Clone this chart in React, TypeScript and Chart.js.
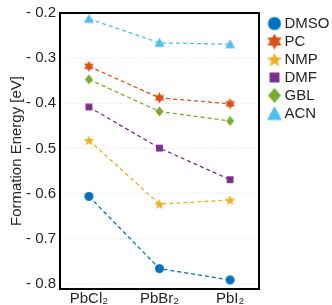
import React, { useEffect, useRef } from "react";
import { Chart, registerables } from "chart.js";

Chart.register(...registerables);

const categories = ["PbCl₂", "PbBr₂", "PbI₂"];
const yTicks = [-0.8, -0.7, -0.6, -0.5, -0.4, -0.3, -0.2];
const seriesNames = ["DMSO", "PC", "NMP", "DMF", "GBL", "ACN"];
const dmso = [-0.606, -0.766, -0.791];
const pc = [-0.318, -0.388, -0.401];
const nmp = [-0.482, -0.623, -0.614];
const dmf = [-0.408, -0.499, -0.569];
const gbl = [-0.347, -0.418, -0.439];
const acn = [-0.213, -0.266, -0.269];
const seriesValues = [dmso, pc, nmp, dmf, gbl, acn];
const colors = ["#0072BD", "#D95319", "#EDB120", "#7E2F8E", "#77AC30", "#4DBEEE"];
const shapes = ["circle", "hexagram", "pentagram", "square", "diamond", "triangle"];

function starPath(ctx: CanvasRenderingContext2D, cx: number, cy: number, n: number, R: number, r: number) {
  ctx.beginPath();
  for (let i = 0; i < 2 * n; i++) {
    const rad = i % 2 === 0 ? R : r;
    const a = -Math.PI / 2 + (i * Math.PI) / n;
    const x = cx + rad * Math.cos(a);
    const y = cy + rad * Math.sin(a);
    if (i === 0) ctx.moveTo(x, y);
    else ctx.lineTo(x, y);
  }
  ctx.closePath();
}

// size: marker size; extraW: canvas widened, shape shifted right by dx
function makeMarker(shape: string, color: string, size: number, canvasW = size, dx = 0): HTMLCanvasElement {
  const c = document.createElement("canvas");
  c.width = canvasW;
  c.height = size;
  const ctx = c.getContext("2d")!;
  ctx.fillStyle = color;
  const h = size / 2;
  ctx.translate(canvasW / 2 - h + dx, 0);
  if (shape === "circle") {
    ctx.beginPath();
    ctx.arc(h, h, h * 0.82, 0, Math.PI * 2);
  } else if (shape === "hexagram") {
    starPath(ctx, h, h, 6, h, h * 0.577);
  } else if (shape === "pentagram") {
    starPath(ctx, h, h * 1.08, 5, h, h * 0.42);
  } else if (shape === "square") {
    ctx.beginPath();
    ctx.rect(h - h * 0.62, h - h * 0.62, h * 1.24, h * 1.24);
  } else if (shape === "diamond") {
    ctx.beginPath();
    ctx.moveTo(h, 0.5);
    ctx.lineTo(size - 1.5, h);
    ctx.lineTo(h, size - 0.5);
    ctx.lineTo(1.5, h);
    ctx.closePath();
  } else {
    ctx.beginPath();
    ctx.moveTo(h, 0.5);
    ctx.lineTo(size - 0.5, size - 1.5);
    ctx.lineTo(0.5, size - 1.5);
    ctx.closePath();
  }
  ctx.fill();
  return c;
}

const FONT = "'Liberation Sans', Arial, Helvetica, sans-serif";
const TEXT = "#262626";

export default function App() {
  const ref = useRef<HTMLCanvasElement>(null);
  useEffect(() => {
    if (!ref.current) return;
    const plotMarkers = shapes.map((s, i) => makeMarker(s, colors[i], 11));
    const legendMarkers = shapes.map((s, i) => makeMarker(s, colors[i], 16, 28, 5));
    const boxPlugin = {
      id: "boxPlugin",
      afterDraw(chart: any) {
        const { ctx, chartArea } = chart;
        ctx.save();
        ctx.strokeStyle = "#000";
        ctx.lineWidth = 2;
        ctx.strokeRect(chartArea.left, chartArea.top, chartArea.right - chartArea.left, chartArea.bottom - chartArea.top);
        ctx.restore();
      },
    };
    const chart = new Chart(ref.current, {
      type: "line",
      data: {
        datasets: seriesNames.map((name, i) => ({
          label: name,
          data: seriesValues[i].map((v, j) => ({ x: j, y: v })),
          borderColor: colors[i],
          backgroundColor: colors[i],
          borderWidth: 1.3,
          borderDash: [4, 3],
          pointStyle: plotMarkers[i] as any,
          pointRadius: 5,
          fill: false,
        })),
      },
      options: {
        animation: false,
        responsive: false,
        layout: { padding: { top: 4, left: 0, right: 0, bottom: 0 } },
        plugins: {
          tooltip: { enabled: false },
          legend: {
            position: "right",
            align: "start",
            maxWidth: 73,
            title: { display: true, text: " ", font: { size: 5 }, padding: 1.5 },
            labels: {
              usePointStyle: true,
              font: { family: FONT, size: 15 },
              color: TEXT,
              padding: 3,
              generateLabels: (chart: any) =>
                chart.data.datasets.map((d: any, i: number) => ({
                  text: d.label,
                  fillStyle: colors[i],
                  strokeStyle: colors[i],
                  lineWidth: 0,
                  pointStyle: legendMarkers[i],
                  datasetIndex: i,
                  fontColor: TEXT,
                  hidden: false,
                })),
            },
          },
        },
        scales: {
          x: {
            type: "linear",
            min: -0.41,
            max: 2.41,
            afterBuildTicks: (s: any) => {
              s.ticks = categories.map((_, i) => ({ value: i }));
            },
            afterFit: (s: any) => {
              s.height = 16;
            },
            ticks: {
              callback: (v: any) => categories[v as number] ?? "",
              font: { family: FONT, size: 15 },
              color: TEXT,
              padding: 1,
              maxRotation: 0,
            },
            grid: { display: false, drawTicks: false },
            border: { display: false },
          },
          y: {
            min: -0.811,
            max: -0.2,
            afterBuildTicks: (s: any) => {
              s.ticks = yTicks.map((v) => ({ value: v }));
            },
            afterFit: (s: any) => {
              s.width = 60;
            },
            ticks: {
              callback: (v: any) => "- " + Math.abs(v as number).toFixed(1),
              font: { family: FONT, size: 15 },
              color: TEXT,
              padding: 4,
            },
            title: {
              display: true,
              text: "Formation Energy [eV]",
              font: { family: FONT, size: 15 },
              color: TEXT,
              padding: { top: 8, bottom: 0 },
            },
            grid: { color: "#e3e3e3", drawTicks: false, lineWidth: 1 },
            border: { display: false, dash: [1, 2] },
          },
        },
      },
      plugins: [boxPlugin],
    });
    return () => chart.destroy();
  }, []);
  return (
    <div style={{ position: "fixed", left: 0, top: 0, width: 332, height: 305, background: "#fff" }}>
      <canvas ref={ref} width={332} height={305} />
    </div>
  );
}
